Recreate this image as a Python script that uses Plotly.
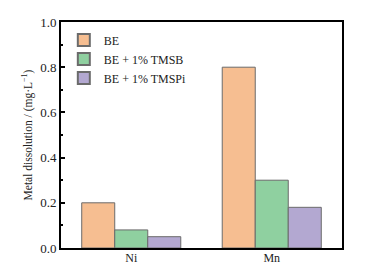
import plotly.graph_objects as go

categories = ["Ni", "Mn"]
series_names = ["BE", "BE + 1% TMSB", "BE + 1% TMSPi"]
be = [0.2, 0.8]
tmsb = [0.08, 0.3]
tmspi = [0.05, 0.18]
colors = ["#F6BE91", "#8FD0A0", "#B3A8D1"]
y_ticks = [0.0, 0.2, 0.4, 0.6, 0.8, 1.0]
y_labels = ["0.0", "0.2", "0.4", "0.6", "0.8", "1.0"]

fig = go.Figure()
for name, vals, c in zip(series_names, [be, tmsb, tmspi], colors):
    fig.add_trace(go.Bar(x=categories, y=vals, name=name, marker=dict(color=c, line=dict(color="#6b6b6b", width=1))))

font = dict(family="Liberation Serif, Times New Roman, serif", size=13, color="#222")
fig.update_layout(
    width=350, height=258,
    margin=dict(l=53, r=16, t=14, b=18),
    plot_bgcolor="white", paper_bgcolor="white",
    barmode="group", bargap=0.295, bargroupgap=0,
    font=font,
    showlegend=True,
    legend=dict(x=0.01, y=0.985, xanchor="left", yanchor="top", bgcolor="rgba(0,0,0,0)",
                font=dict(family="Liberation Serif, serif", size=12, color="#222"),
                itemsizing="constant", tracegroupgap=0),
    xaxis=dict(showline=True, linecolor="black", linewidth=2, mirror=True, ticks="",
               range=[-0.5, 1.5], tickfont=dict(size=12), automargin=False, ticklabelstandoff=-2),
    yaxis=dict(range=[0, 1.0], tickvals=y_ticks, ticktext=y_labels, showline=True, linecolor="black",
               linewidth=2, mirror=True, ticks="inside", ticklen=4, tickwidth=1.5, tickcolor="black",
               showgrid=False, zeroline=False, automargin="left", tickfont=dict(size=13),
               minor=dict(tickvals=[0.1, 0.3, 0.5, 0.7, 0.9], ticks="inside", ticklen=2, tickcolor="black"),
               title=dict(text="Metal dissolution / (mg·L<sup>−1</sup>)", font=dict(size=11.5), standoff=5)),
)
fig.write_html("out.html")
